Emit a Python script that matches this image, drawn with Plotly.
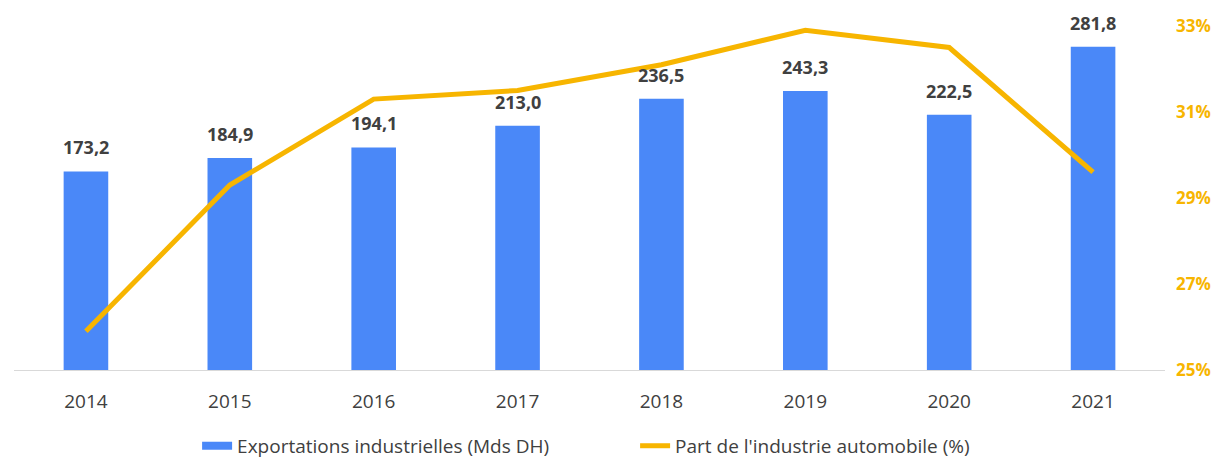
import plotly.graph_objects as go

years = ["2014", "2015", "2016", "2017", "2018", "2019", "2020", "2021"]
exports = [173.2, 184.9, 194.1, 213.0, 236.5, 243.3, 222.5, 281.8]
auto_share = [25.9, 29.3, 31.3, 31.5, 32.1, 32.9, 32.5, 29.6]
share_ticks = [25, 27, 29, 31, 33]
share_tick_labels = ["25%", "27%", "29%", "31%", "33%"]

FONT = "'Open Sans', sans-serif"
BLUE = "#4A88F8"
GOLD = "#F7B500"
BAR_NAME = "Exportations industrielles (Mds DH)"
LINE_NAME = "Part de l'industrie automobile (%)"

fig = go.Figure()
fig.add_trace(go.Bar(
    x=years, y=exports, name=BAR_NAME, showlegend=False,
    marker=dict(color=BLUE, line=dict(width=0)),
))
# legend proxy for the bar series (wide rectangle swatch)
fig.add_trace(go.Scatter(
    x=[None], y=[None], name=BAR_NAME, mode="lines",
    line=dict(color=BLUE, width=8),
))
fig.add_trace(go.Scatter(
    x=years, y=auto_share, name=LINE_NAME,
    mode="lines", line=dict(color=GOLD, width=5), yaxis="y2",
))

# value labels above bars (category index positions on the x axis)
for i, v in enumerate(exports):
    fig.add_annotation(
        x=i, y=v, xref="x", yref="y",
        text="<b>%s</b>" % ("%.1f" % v).replace(".", ","),
        showarrow=False, yanchor="bottom", yshift=10,
        font=dict(size=18, color="#404040", family=FONT),
    )

fig.update_layout(
    width=1220, height=459,
    margin=dict(l=6, r=63, t=14, b=97),
    plot_bgcolor="white", paper_bgcolor="white",
    bargap=0.69,
    font=dict(family=FONT, size=19, color="#404040"),
    xaxis=dict(type="category", categoryorder="array", categoryarray=years,
               showline=True, linecolor="#d9d9d9", linewidth=1,
               ticks="", ticklabelstandoff=14,
               tickfont=dict(size=19, color="#404040"),
               showgrid=False),
    yaxis=dict(range=[0, 300], visible=False, showgrid=False),
    yaxis2=dict(range=[25, 33], overlaying="y", side="right",
                tickvals=share_ticks, ticktext=["<b>%s</b>" % t for t in share_tick_labels],
                tickfont=dict(size=17, color=GOLD, family=FONT),
                ticklabelstandoff=10,
                showgrid=False, showline=False, zeroline=False, ticks=""),
    legend=dict(orientation="h", xref="container", x=0.155, xanchor="left",
                yref="container", y=0.046, yanchor="middle",
                font=dict(size=19, color="#404040"), itemwidth=30,
                entrywidth=393, entrywidthmode="pixels",
                traceorder="normal"),
    showlegend=True,
)

fig.write_html("out.html")
